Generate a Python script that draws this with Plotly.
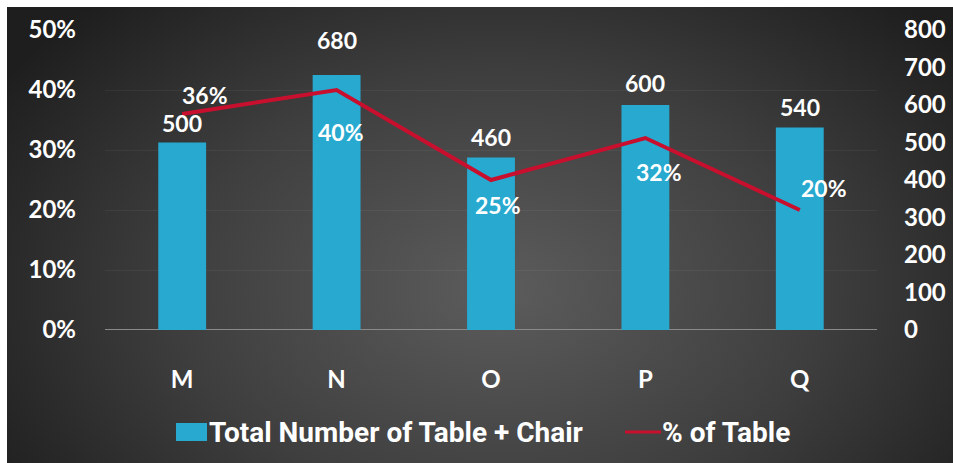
import base64
import plotly.graph_objects as go

# Data
categories = ["M", "N", "O", "P", "Q"]
total_items = [500, 680, 460, 600, 540]          # Total Number of Table + Chair
table_share = [36, 40, 25, 32, 20]               # % of Table
series_names = ["Total Number of Table + Chair", "% of Table"]

left_ticks = [0, 10, 20, 30, 40, 50]
left_tick_text = ["0%", "10%", "20%", "30%", "40%", "50%"]
right_ticks = [0, 100, 200, 300, 400, 500, 600, 700, 800]

W, H = 953, 463
L, R, T, B = 105, 76, 30, 133
PW, PH = W - L - R, H - T - B

BAR_COLOR = "#27a9d0"
LINE_COLOR = "#c8102e"
FONT = "Lato, 'Open Sans', sans-serif"
LEGEND_FONT = "Roboto, 'Liberation Sans', sans-serif"


def px_x(px):
    """Pixel column -> paper x."""
    return (px - L) / PW


def px_y(py):
    """Pixel row -> paper y."""
    return (T + PH - py) / PH


# Dark radial-gradient backdrop as an SVG image
svg = f"""<svg xmlns='http://www.w3.org/2000/svg' width='{W}' height='{H}' viewBox='0 0 {W} {H}' preserveAspectRatio='none'>
<defs><radialGradient id='g' cx='0.52' cy='0.62' r='0.62' gradientTransform='translate(0.52,0.62) scale(1,1.4) translate(-0.52,-0.62)'>
<stop offset='0' stop-color='#5c5c5c'/><stop offset='0.55' stop-color='#3e3e3e'/><stop offset='1' stop-color='#1e1e1e'/>
</radialGradient></defs>
<rect width='{W}' height='{H}' fill='url(#g)'/></svg>"""
bg_uri = "data:image/svg+xml;base64," + base64.b64encode(svg.encode()).decode()

bold = dict(family=FONT, size=24, color="white", weight="bold")
label_font = dict(family=FONT, size=23, color="white", weight="bold")

fig = go.Figure()

# Bars on the count axis (right side), line on the percent axis (left side, drawn on top)
fig.add_trace(go.Bar(
    x=categories, y=total_items, yaxis="y",
    name=series_names[0],
    marker=dict(color=BAR_COLOR, line=dict(width=0)),
    width=0.31,
))

fig.add_trace(go.Scatter(
    x=categories, y=table_share, yaxis="y2",
    name=series_names[1], mode="lines",
    line=dict(color=LINE_COLOR, width=4),
))

# Value labels for bars
bar_label_shift = [20, 35, 21, 22, 21]
for c, v, s in zip(categories, total_items, bar_label_shift):
    fig.add_annotation(x=c, y=v, yref="y", text=str(v), showarrow=False,
                       yshift=s, font=label_font, borderpad=0)

# Value labels for the percentage line
pct_offsets = [(23, 19), (4, -42), (7, -25), (14, -34), (24, 22)]
for c, v, (dx, dy) in zip(categories, table_share, pct_offsets):
    fig.add_annotation(x=c, y=v, yref="y2", text=f"{v}%", showarrow=False,
                       xshift=dx, yshift=dy, font=label_font, borderpad=0)

# Baseline
fig.add_shape(type="line", xref="paper", yref="y", x0=0, x1=1.0, y0=0, y1=0,
              line=dict(color="#8a8a8a", width=2), layer="below")

# Legend drawn below the plot: swatches and labels
fig.add_shape(type="rect", xref="paper", yref="paper",
              x0=px_x(176), x1=px_x(207), y0=px_y(441), y1=px_y(423),
              fillcolor=BAR_COLOR, line=dict(width=0))
fig.add_annotation(xref="paper", yref="paper", x=px_x(208), y=px_y(432),
                   xanchor="left", yanchor="middle", showarrow=False,
                   text=series_names[0], borderpad=0,
                   font=dict(family=LEGEND_FONT, size=28, color="white", weight="bold"))
fig.add_shape(type="line", xref="paper", yref="paper",
              x0=px_x(625), x1=px_x(661), y0=px_y(432), y1=px_y(432),
              line=dict(color=LINE_COLOR, width=3))
fig.add_annotation(xref="paper", yref="paper", x=px_x(661), y=px_y(432),
                   xanchor="left", yanchor="middle", showarrow=False,
                   text=series_names[1], borderpad=0,
                   font=dict(family=LEGEND_FONT, size=28, color="white", weight="bold"))

fig.add_layout_image(
    source=bg_uri, xref="paper", yref="paper",
    x=px_x(7), y=px_y(7),
    sizex=(W - 7) / PW, sizey=(H - 7) / PH,
    sizing="stretch", xanchor="left", yanchor="top", layer="below",
)

fig.update_layout(
    width=W, height=H,
    margin=dict(l=L, r=R, t=T, b=B, pad=0, autoexpand=False),
    paper_bgcolor="white", plot_bgcolor="rgba(0,0,0,0)",
    showlegend=False,
    xaxis=dict(showgrid=False, zeroline=False, showline=False, automargin=False,
               tickfont=bold, ticks="", ticklabelstandoff=33),
    yaxis=dict(range=[0, 800], tickvals=right_ticks, side="right", automargin=False,
               showgrid=False, zeroline=False, showline=False,
               tickfont=bold, ticklabelstandoff=26),
    yaxis2=dict(range=[0, 50], tickvals=left_ticks, ticktext=left_tick_text,
                overlaying="y", side="left", automargin=False,
                showgrid=True, gridcolor="rgba(255,255,255,0.05)", zeroline=False,
                tickfont=bold, ticklabelstandoff=28, showline=False),
    bargap=0.69,
)

fig.write_html("out.html")
